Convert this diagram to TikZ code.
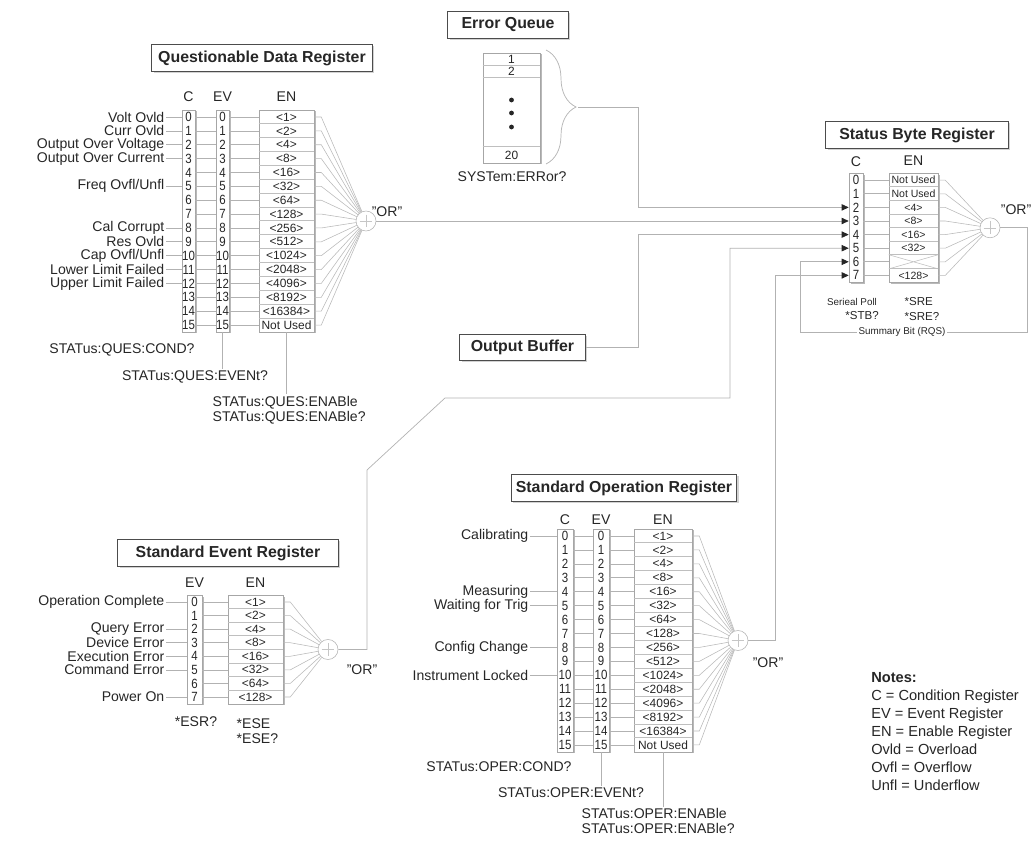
\documentclass[tikz,border=0pt]{standalone}
\usepackage{fontspec}
\setmainfont{Liberation Sans}
\newfontfamily\narrowdigits{Liberation Sans}[FakeStretch=0.86]
\usepackage{tikz}
\usetikzlibrary{arrows.meta,positioning,shapes,calc,shadows,decorations.pathreplacing}

\begin{document}
\begin{tikzpicture}[
    x=0.025cm, y=-0.025cm,
    every node/.style={text=black!85},
    title/.style={rectangle, draw=black!70, line width=0.7pt, fill=white, minimum height=0.66cm, font=\bfseries\fontsize{11.3}{13}\selectfont, drop shadow={shadow xshift=1.2pt, shadow yshift=-1.2pt, fill=gray!35, opacity=1}},
    colbox/.style={rectangle, draw=gray!70, fill=white, inner sep=0, drop shadow={shadow xshift=1.6pt, shadow yshift=-1pt, fill=gray!55, opacity=1}},
    cell/.style={rectangle, inner sep=0, minimum height=0.347cm, font=\fontsize{8.5}{9}\selectfont},
    bit/.style={cell, font=\narrowdigits\fontsize{9.5}{10}\selectfont},
    head/.style={inner sep=1pt, font=\fontsize{10}{11}\selectfont},
    lbl/.style={anchor=east, inner sep=1pt, font=\fontsize{10}{11}\selectfont},
    cmd/.style={inner sep=1pt, font=\fontsize{10}{10.6}\selectfont},
    small/.style={inner sep=1pt, font=\fontsize{7}{8}\selectfont},
    sbcmd/.style={inner sep=1pt, font=\fontsize{8.2}{10}\selectfont},
    ortext/.style={inner sep=1pt, font=\fontsize{10}{11}\selectfont},
    orgate/.style={circle, draw=gray!60, fill=white, minimum size=0.5cm, inner sep=0,
        path picture={\draw[gray!45] ([yshift=-2.5pt]path picture bounding box.north) -- ([yshift=2.5pt]path picture bounding box.south)
            ([xshift=2.5pt]path picture bounding box.west) -- ([xshift=-2.5pt]path picture bounding box.east);}},
    wire/.style={draw=gray!60, line width=0.5pt},
    fan/.style={draw=gray!55, line width=0.4pt},
    sep/.style={draw=gray!50, line width=0.4pt},
    feed/.style={wire, -{Triangle[length=5pt, width=4.5pt, color=black!85]}}
]
    \useasboundingbox (0,0) rectangle (1033,841);

    % Questionable Data Register
    \node[title, minimum width=5.5cm] (qtitle) at (262,58) {Questionable Data Register};
    \node[head] (qch) at (188.5,97) {C};
    \node[head] (qevh) at (222.5,97) {EV};
    \node[head] (qenh) at (286.5,97) {EN};
    \node[colbox, minimum width=0.325cm, minimum height=5.55cm] (qcbox) at (188.5,221) {};
    \node[colbox, minimum width=0.325cm, minimum height=5.55cm] (qevbox) at (222.5,221) {};
    \node[colbox, minimum width=1.375cm, minimum height=5.55cm] (qenbox) at (286.5,221) {};
    \node[orgate] (qor) at (366,221) {};
    \node[ortext] (qort) at (387,212) {"OR"};
    \foreach \i/\v in {0/{<1>},1/{<2>},2/{<4>},3/{<8>},4/{<16>},5/{<32>},6/{<64>},7/{<128>},8/{<256>},9/{<512>},10/{<1024>},11/{<2048>},12/{<4096>},13/{<8192>},14/{<16384>},15/{Not Used}}{
        \pgfmathsetmacro{\y}{117+13.87*\i}
        \node[bit, minimum width=0.325cm] (qc\i) at (188.5,\y) {\i};
        \node[bit, minimum width=0.325cm] (qev\i) at (222.5,\y) {\i};
        \node[cell, minimum width=1.375cm] (qen\i) at (286.5,\y) {\v};
        \draw[wire] (qc\i) -- (qev\i);
        \draw[wire] (qev\i) -- (qen\i);
        \draw[fan] (qen\i.east) -- ++(7,0) -- (qor);
    }
    \foreach \i in {1,...,15} \draw[sep] (qen\i.north west) -- (qen\i.north east);
    \foreach \i/\t in {0/Volt Ovld,1/Curr Ovld,2/Output Over Voltage,3/Output Over Current,5/{Freq Ovfl/Unfl},8/Cal Corrupt,9/Res Ovld,10/{Cap Ovfl/Unfl},11/Lower Limit Failed,12/Upper Limit Failed}{
        \pgfmathsetmacro{\y}{117+13.87*\i}
        \node[lbl] (ql\i) at (166,\y) {\t};
        \draw[wire] (ql\i) -- (qc\i);
    }
    \node[cmd] (qcq) at (122,350) {STATus:QUES:COND?};
    \node[cmd] (qevq) at (195,377) {STATus:QUES:EVENt?};
    \node[cmd, anchor=west, align=left] (qenq) at (211,410) {STATus:QUES:ENABle\\STATus:QUES:ENABle?};
    \draw[wire] (qevbox.south) -- (qevbox.south |- qevq.north);
    \draw[wire] (qenbox.south) -- (qenbox.south |- qenq.north);

    % Error Queue
    \node[title, minimum width=3cm] (eqtitle) at (508,25) {Error Queue};
    \node[colbox, minimum width=1.425cm, minimum height=2.75cm] (eqbox) at (511.5,108) {};
    \node[cell, minimum width=1.425cm, minimum height=0.3cm] (eq1) at (511.5,59) {1};
    \node[cell, minimum width=1.425cm, minimum height=0.3cm] (eq2) at (511.5,71) {2};
    \node[cell, minimum width=1.425cm, minimum height=0.4cm] (eq20) at (511.5,155) {20};
    \draw[sep] (eq1.south west) -- (eq1.south east);
    \draw[sep] (eq2.south west) -- (eq2.south east);
    \draw[sep] (eq20.north west) -- (eq20.north east);
    \foreach \y in {100,113,127} \fill[black!85] (511.5,\y) circle (0.06cm);
    \draw[wire, decorate, decoration={brace, amplitude=0.75cm}] (546,50) -- (546,164);
    \coordinate (eqtip) at (578,107);
    \node[cmd] (eqq) at (512,177) {SYSTem:ERRor?};

    % Output Buffer
    \node[title, minimum width=3.125cm] (obuf) at (522.5,347.5) {Output Buffer};

    % Status Byte Register
    \node[title, minimum width=4.55cm] (stitle) at (917,135) {Status Byte Register};
    \node[head] (sch) at (856,162) {C};
    \node[head] (senh) at (913.5,161) {EN};
    \node[colbox, minimum width=0.35cm, minimum height=2.72cm] (scbox) at (856,227.8) {};
    \node[colbox, minimum width=1.225cm, minimum height=2.72cm] (senbox) at (913.5,227.8) {};
    \node[orgate] (sbor) at (990,227.8) {};
    \node[ortext, anchor=east] (sbort) at (1033,210) {"OR"};
    \foreach \i/\v in {0/Not Used,1/Not Used,2/{<4>},3/{<8>},4/{<16>},5/{<32>},6/{},7/{<128>}}{
        \pgfmathsetmacro{\y}{180.2+13.6*\i}
        \node[bit, minimum width=0.35cm, minimum height=0.34cm] (sc\i) at (856,\y) {\i};
        \node[cell, minimum width=1.225cm, minimum height=0.34cm, font=\fontsize{7.5}{8}\selectfont] (sen\i) at (913.5,\y) {\v};
        \draw[wire] (sc\i) -- (sen\i);
        \draw[fan] (sen\i.east) -- ++(7,0) -- (sbor);
    }
    \foreach \i in {1,...,7} \draw[sep] (sen\i.north west) -- (sen\i.north east);
    \draw[sep] (sen6.north west) -- (sen6.south east) (sen6.south west) -- (sen6.north east);
    \node[small] (spoll) at (852,302) {Serieal Poll};
    \node[sbcmd] (stbq) at (862,316) {*STB?};
    \node[sbcmd, anchor=west, align=left] (sreq) at (903,309) {*SRE\\*SRE?};

    % Standard Event Register
    \node[title, minimum width=5.5cm] (etitle) at (228,553) {Standard Event Register};
    \node[head] (eevh) at (194.5,583) {EV};
    \node[head] (eenh) at (255.5,583) {EN};
    \node[colbox, minimum width=0.375cm, minimum height=2.714cm] (eevbox) at (194.5,649.5) {};
    \node[colbox, minimum width=1.375cm, minimum height=2.714cm] (eenbox) at (255.5,649.5) {};
    \node[orgate] (eor) at (328,649.5) {};
    \node[ortext] (eort) at (362,670) {"OR"};
    \foreach \i/\v in {0/{<1>},1/{<2>},2/{<4>},3/{<8>},4/{<16>},5/{<32>},6/{<64>},7/{<128>}}{
        \pgfmathsetmacro{\y}{602+13.57*\i}
        \node[bit, minimum width=0.375cm, minimum height=0.339cm] (eev\i) at (194.5,\y) {\i};
        \node[cell, minimum width=1.375cm, minimum height=0.339cm] (een\i) at (255.5,\y) {\v};
        \draw[wire] (eev\i) -- (een\i);
        \draw[fan] (een\i.east) -- ++(7,0) -- (eor);
    }
    \foreach \i in {1,...,7} \draw[sep] (een\i.north west) -- (een\i.north east);
    \foreach \i/\t in {0/Operation Complete,2/Query Error,3/Device Error,4/Execution Error,5/Command Error,7/Power On}{
        \pgfmathsetmacro{\y}{602+13.57*\i}
        \node[lbl] (el\i) at (166,\y) {\t};
        \draw[wire] (el\i) -- (eev\i);
    }
    \node[cmd] (esrq) at (196,722) {*ESR?};
    \node[cmd, anchor=west, align=left] (eseq) at (235,731) {*ESE\\*ESE?};

    % Standard Operation Register
    \node[title, minimum width=5.6cm] (otitle) at (624,488) {Standard Operation Register};
    \node[head] (och) at (565,520) {C};
    \node[head] (oevh) at (601,520) {EV};
    \node[head] (oenh) at (663,520) {EN};
    \node[colbox, minimum width=0.4cm, minimum height=5.572cm] (ocbox) at (565,640.5) {};
    \node[colbox, minimum width=0.4cm, minimum height=5.572cm] (oevbox) at (601,640.5) {};
    \node[colbox, minimum width=1.45cm, minimum height=5.572cm] (oenbox) at (663,640.5) {};
    \node[orgate] (oor) at (738,640.5) {};
    \node[ortext] (oort) at (768,663) {"OR"};
    \foreach \i/\v in {0/{<1>},1/{<2>},2/{<4>},3/{<8>},4/{<16>},5/{<32>},6/{<64>},7/{<128>},8/{<256>},9/{<512>},10/{<1024>},11/{<2048>},12/{<4096>},13/{<8192>},14/{<16384>},15/{Not Used}}{
        \pgfmathsetmacro{\y}{536+13.93*\i}
        \node[bit, minimum width=0.4cm, minimum height=0.348cm] (oc\i) at (565,\y) {\i};
        \node[bit, minimum width=0.4cm, minimum height=0.348cm] (oev\i) at (601,\y) {\i};
        \node[cell, minimum width=1.45cm, minimum height=0.348cm] (oen\i) at (663,\y) {\v};
        \draw[wire] (oc\i) -- (oev\i);
        \draw[wire] (oev\i) -- (oen\i);
        \draw[fan] (oen\i.east) -- ++(7,0) -- (oor);
    }
    \foreach \i in {1,...,15} \draw[sep] (oen\i.north west) -- (oen\i.north east);
    \foreach \i/\t in {0/Calibrating,4/Measuring,5/Waiting for Trig,8/Config Change,10/Instrument Locked}{
        \pgfmathsetmacro{\y}{536+13.93*\i}
        \node[lbl] (ol\i) at (530,\y) {\t};
        \draw[wire] (ol\i) -- (oc\i);
    }
    \node[cmd] (ocq) at (499,767) {STATus:OPER:COND?};
    \node[cmd] (oevq) at (571,793) {STATus:OPER:EVENt?};
    \node[cmd, anchor=west, align=left] (oenq) at (580,821) {STATus:OPER:ENABle\\STATus:OPER:ENABle?};
    \draw[wire] (oevbox.south) -- (oevbox.south |- oevq.north);
    \draw[wire] (oenbox.south) -- (oenbox.south |- oenq.north);

    % Feeds into the Status Byte
    \coordinate (ebend1) at (367,470);
    \coordinate (ebend2) at (445,398);
    \coordinate (rqs) at (800,332);
    \draw[feed] (eqtip) -- ++(60,0) |- (sc2);
    \draw[feed] (qor) -- (sc3);
    \draw[feed] (obuf) -- ++(115.5,0) |- (sc4);
    \draw[feed] (eor) -- ++(39,0) -- (ebend1) -- (ebend2) -- ++(285,0) |- (sc5);
    \draw[feed] (sbor) -- ++(37,0) |- (rqs) |- (sc6);
    \draw[feed] (oor) -- ++(37,0) |- (sc7);
    \node[small, fill=white] (rqsl) at (902,332) {Summary Bit (RQS)};

    % Notes
    \node[anchor=north west, align=left, inner sep=0, font=\fontsize{10.4}{12.8}\selectfont] (notes) at (871,672) {\textbf{Notes:}\\C = Condition Register\\EV = Event Register\\EN = Enable Register\\Ovld = Overload\\Ovfl = Overflow\\Unfl = Underflow};
\end{tikzpicture}
\end{document}
